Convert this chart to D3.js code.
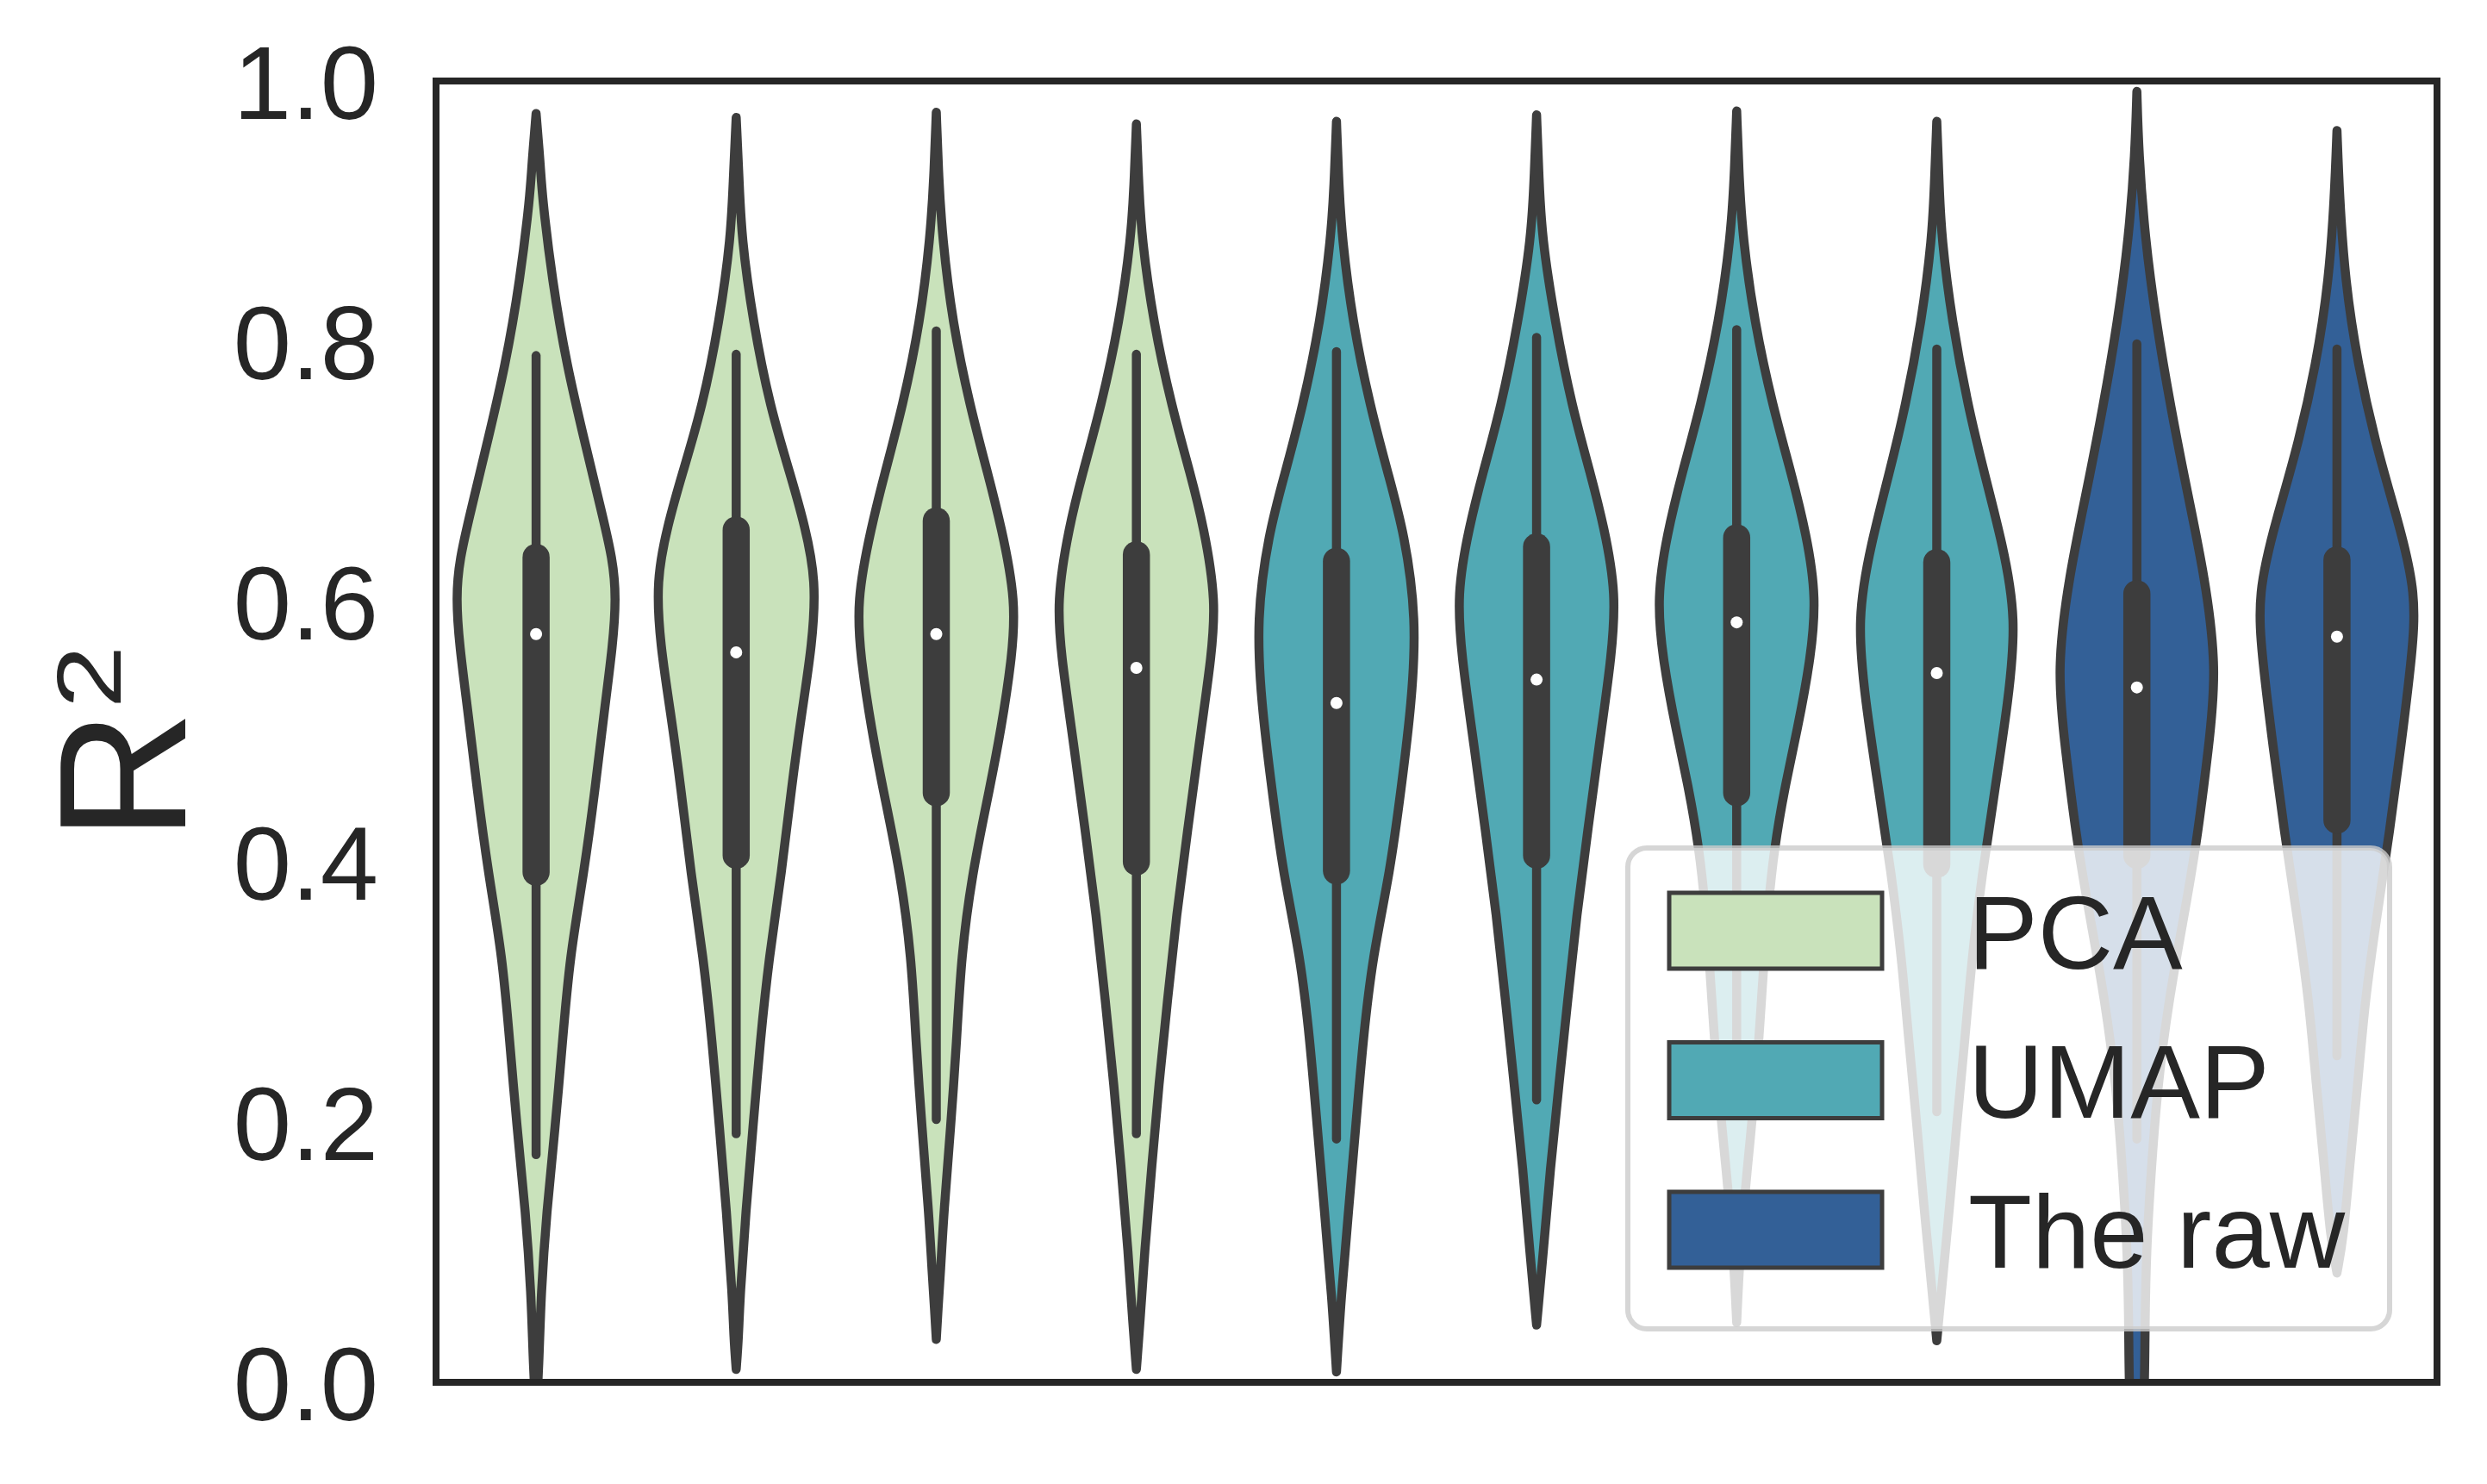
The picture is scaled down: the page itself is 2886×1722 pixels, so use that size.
<!DOCTYPE html>
<html><head><meta charset="utf-8">
<script src="https://cdn.jsdelivr.net/npm/d3@7"></script>
<style>html,body{margin:0;padding:0;background:#fff;} svg{display:block;} text{font-family:"Liberation Sans", Arial, sans-serif; fill:#262626;}</style>
</head><body>
<svg id="chart" width="2886" height="1722"></svg>
<script>
// ---- data ----
const groups = ["PCA","PCA","PCA","PCA","UMAP","UMAP","UMAP","UMAP","The raw","The raw"];
const legendLabels = ["PCA","UMAP","The raw"];
const groupColors = ["#c9e2bb","#51a9b4","#336097"];
const yTicks = [0.0, 0.2, 0.4, 0.6, 0.8, 1.0];
const yTickLabels = ["0.0","0.2","0.4","0.6","0.8","1.0"];

const whiskerLow  = [0.175,0.191,0.202,0.191,0.187,0.217,0.212,0.208,0.187,0.251];
const q1          = [0.392,0.405,0.453,0.400,0.393,0.405,0.453,0.398,0.405,0.432];
const medians     = [0.575,0.561,0.575,0.549,0.522,0.540,0.584,0.545,0.534,0.573];
const q3          = [0.634,0.655,0.662,0.636,0.631,0.642,0.649,0.630,0.606,0.632];
const whiskerHigh = [0.789,0.790,0.808,0.790,0.792,0.803,0.809,0.794,0.798,0.794];

// density profiles: [R2 value, relative half-width]
const profile1 = [[0.975,0],[0.935,0.054],[0.912,0.075],[0.847,0.20],[0.782,0.38],[0.717,0.63],[0.671,0.81],[0.632,0.96],[0.603,1.0],[0.567,0.96],[0.515,0.85],[0.457,0.74],[0.392,0.60],[0.327,0.42],[0.262,0.33],[0.196,0.24],[0.131,0.13],[0.066,0.06],[0.021,0.04],[-0.03,0]];
const profile2 = [[0.972,0],[0.925,0.036],[0.880,0.065],[0.815,0.21],[0.750,0.42],[0.697,0.68],[0.658,0.86],[0.616,1.0],[0.567,0.95],[0.515,0.82],[0.457,0.69],[0.392,0.57],[0.327,0.41],[0.262,0.30],[0.196,0.21],[0.131,0.12],[0.066,0.047],[0.034,0.029],[0.01,0]];
const profile3 = [[0.976,0],[0.925,0.03],[0.880,0.075],[0.815,0.20],[0.750,0.42],[0.697,0.65],[0.658,0.81],[0.600,1.0],[0.554,0.94],[0.502,0.81],[0.457,0.67],[0.392,0.45],[0.327,0.31],[0.262,0.255],[0.196,0.18],[0.131,0.094],[0.086,0.054],[0.055,0.02],[0.033,0]];
const profile4 = [[0.967,0],[0.919,0.03],[0.880,0.065],[0.815,0.21],[0.750,0.44],[0.697,0.68],[0.658,0.84],[0.600,1.0],[0.554,0.93],[0.489,0.78],[0.424,0.64],[0.359,0.50],[0.294,0.39],[0.229,0.28],[0.164,0.19],[0.099,0.10],[0.047,0.047],[0.01,0]];
const profile5 = [[0.969,0],[0.919,0.03],[0.880,0.068],[0.815,0.20],[0.750,0.42],[0.697,0.65],[0.652,0.85],[0.587,1.0],[0.522,0.94],[0.457,0.81],[0.392,0.67],[0.327,0.45],[0.262,0.33],[0.196,0.24],[0.131,0.15],[0.066,0.058],[0.008,0]];
const profile6 = [[0.974,0],[0.925,0.03],[0.880,0.065],[0.815,0.23],[0.750,0.44],[0.697,0.68],[0.658,0.84],[0.606,1.0],[0.554,0.93],[0.489,0.78],[0.424,0.64],[0.359,0.50],[0.294,0.39],[0.229,0.28],[0.164,0.17],[0.099,0.083],[0.044,0]];
const profile7 = [[0.977,0],[0.925,0.03],[0.880,0.075],[0.815,0.22],[0.750,0.45],[0.697,0.69],[0.652,0.87],[0.603,1.0],[0.554,0.92],[0.502,0.76],[0.457,0.60],[0.411,0.47],[0.359,0.38],[0.294,0.31],[0.229,0.24],[0.164,0.13],[0.099,0.04],[0.046,0]];
const profile8 = [[0.969,0],[0.919,0.03],[0.880,0.058],[0.815,0.19],[0.750,0.39],[0.697,0.60],[0.645,0.82],[0.587,1.0],[0.522,0.89],[0.457,0.73],[0.392,0.57],[0.327,0.44],[0.262,0.35],[0.196,0.245],[0.131,0.155],[0.086,0.083],[0.032,0]];
const profile9 = [[0.992,0],[0.945,0.022],[0.880,0.10],[0.815,0.24],[0.750,0.42],[0.684,0.63],[0.619,0.85],[0.548,1.0],[0.489,0.90],[0.411,0.74],[0.359,0.59],[0.294,0.40],[0.229,0.26],[0.164,0.18],[0.099,0.115],[0.034,0.10],[0.0,0.098],[-0.06,0.06],[-0.12,0]];
const profile10 = [[0.962,0],[0.912,0.03],[0.847,0.10],[0.782,0.26],[0.717,0.50],[0.665,0.75],[0.606,1.0],[0.554,0.93],[0.489,0.80],[0.424,0.66],[0.359,0.50],[0.294,0.35],[0.229,0.26],[0.164,0.155],[0.112,0.083],[0.084,0]];
const profiles = [profile1,profile2,profile3,profile4,profile5,profile6,profile7,profile8,profile9,profile10];

// ---- layout ----
const L = 506, R = 2828, T = 94, B = 1604;
const svg = d3.select("#chart");
const x = d3.scaleBand().domain(d3.range(groups.length)).range([L, R]).padding(0);
const y = d3.scaleLinear().domain([0, 1]).range([B, T]);
const color = d3.scaleOrdinal().domain(legendLabels).range(groupColors);
const hw = d3.scaleLinear().domain([0, 1]).range([0, x.bandwidth() * 0.4]);
const edge = "#3d3d3d";

svg.append("defs").append("clipPath").attr("id","plotclip")
  .append("rect").attr("x", L).attr("y", T).attr("width", R - L).attr("height", B - T);

const plot = svg.append("g").attr("clip-path","url(#plotclip)");

profiles.forEach((prof, i) => {
  const cx = x(i) + x.bandwidth() / 2;
  const area = d3.area()
    .curve(d3.curveBasis)
    .y(d => y(d[0]))
    .x0(d => cx - hw(d[1]))
    .x1(d => cx + hw(d[1]));
  plot.append("path").datum(prof)
    .attr("d", area)
    .attr("fill", color(groups[i]))
    .attr("stroke", edge).attr("stroke-width", 10.5)
    .attr("stroke-linejoin","round");
  // whisker
  plot.append("line").attr("x1", cx).attr("x2", cx)
    .attr("y1", y(whiskerLow[i])).attr("y2", y(whiskerHigh[i]))
    .attr("stroke", edge).attr("stroke-width", 10.5).attr("stroke-linecap","round");
  // box
  plot.append("line").attr("x1", cx).attr("x2", cx)
    .attr("y1", y(q1[i])).attr("y2", y(q3[i]))
    .attr("stroke", edge).attr("stroke-width", 31.5).attr("stroke-linecap","round");
  // median
  plot.append("circle").attr("cx", cx).attr("cy", y(medians[i])).attr("r", 7)
    .attr("fill", "#ffffff");
});

// frame
svg.append("rect").attr("x", L).attr("y", T).attr("width", R - L).attr("height", B - T)
  .attr("fill","none").attr("stroke","#262626").attr("stroke-width", 8);

// y tick labels
svg.append("g").selectAll("text").data(yTicks).join("text")
  .attr("x", L - 67).attr("y", d => y(d)).attr("dy","0.36em")
  .attr("text-anchor","end").attr("font-size", 121)
  .text((d, i) => yTickLabels[i]);

// y label R^2
svg.append("text").attr("transform","translate(215,976) rotate(-90)")
  .attr("text-anchor","start").attr("font-size", 210).text("R");
svg.append("text").attr("transform","translate(140,822) rotate(-90) scale(1.25,1)")
  .attr("text-anchor","start").attr("font-size", 105).text("2");

// legend
const lg = svg.append("g");
lg.append("rect").attr("x", 1889).attr("y", 984).attr("width", 2773 - 1889).attr("height", 1542 - 984)
  .attr("rx", 22).attr("ry", 22)
  .attr("fill","#ffffff").attr("fill-opacity", 0.8)
  .attr("stroke","#cccccc").attr("stroke-opacity", 0.8).attr("stroke-width", 6);
const legendY = d3.scalePoint().domain(legendLabels).range([1080, 1427]);
legendLabels.forEach(lab => {
  lg.append("rect").attr("x", 1937).attr("y", legendY(lab) - 44).attr("width", 247).attr("height", 88)
    .attr("fill", color(lab)).attr("stroke", edge).attr("stroke-width", 5);
  lg.append("text").attr("x", 2284).attr("y", legendY(lab)).attr("dy","0.36em")
    .attr("font-size", 121).text(lab);
});
</script>
</body></html>
